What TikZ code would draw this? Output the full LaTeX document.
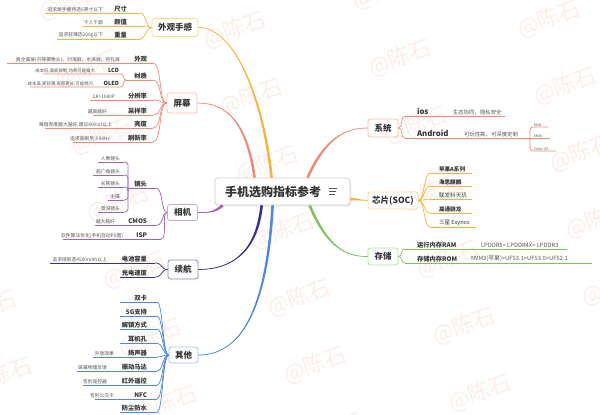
\documentclass[tikz,border=0pt]{standalone}
\usepackage{fontspec}
\setmainfont{Noto Sans CJK SC}
\usetikzlibrary{calc}
\definecolor{cOr}{HTML}{F4B43C}
\definecolor{cOrL}{HTML}{FAD88E}
\definecolor{cRd}{HTML}{F08A78}
\definecolor{cRdL}{HTML}{F6BDB2}
\definecolor{cPu}{HTML}{A064B4}
\definecolor{cPuL}{HTML}{CDA9DA}
\definecolor{cIn}{HTML}{3A2D8C}
\definecolor{cInL}{HTML}{8E82C8}
\definecolor{cBl}{HTML}{5088DA}
\definecolor{cBlL}{HTML}{A3C1EE}
\definecolor{cGr}{HTML}{7CC35A}
\definecolor{cGrL}{HTML}{B8DEA2}
\definecolor{txt}{HTML}{333333}
\definecolor{note}{HTML}{555555}
\definecolor{wm}{HTML}{FDEEEA}
\tikzset{
  topic/.style={draw, rounded corners=2.5pt, line width=0.8pt, fill=white, text=txt,
    font=\bfseries\fontsize{8.5}{8.5}\selectfont, inner sep=0pt, minimum height=18pt},
  lab/.style={text=txt, font=\bfseries\fontsize{6.3}{6.3}\selectfont, inner sep=0.8pt},
  rlab/.style={text=txt, font=\bfseries\fontsize{7.8}{7.8}\selectfont, inner sep=0.8pt},
  slab/.style={text=txt, font=\bfseries\fontsize{5.6}{5.6}\selectfont, inner sep=0.8pt},
  nt/.style={text=note, font=\fontsize{4.8}{4.8}\selectfont, inner sep=0.8pt},
  tnt/.style={text=note, font=\fontsize{3.6}{3.6}\selectfont, inner sep=0.6pt},
  br/.style={line width=0.7pt},
  wmk/.style={text=wm, font=\fontsize{22}{22}\selectfont, rotate=20},
}
% name, colour, y, x start, x end, label right x, label, note right x, note
\newcommand{\LItem}[9]{%
  \coordinate (#1a) at (#4,#3);
  \coordinate (#1b) at (#5,#3);
  \draw[#2, br] (#1a) -- (#1b);
  \if\relax\detokenize{#7}\relax\else
    \node[lab, anchor=south east] (#1) at (#6,#3) {#7};\fi
  \if\relax\detokenize{#9}\relax\else
    \node[nt, anchor=south east] (#1n) at (#8,#3) {#9};\fi
}
% tapered main branch: colour, start coordinate, ctrl1 (rel. start), end anchor, ctrl2 (rel. end), half width
\newcommand{\taper}[6]{%
  \fill[#1] ($(#2)+#6$) .. controls ($(#2)+#3+#6$) and ($(#4)+#5$) .. (#4)
     .. controls ($(#4)+#5$) and ($(#2)+#3-#6$) .. ($(#2)-#6$) -- cycle;
  \draw[#1, line width=0.7pt] (#2) .. controls ($(#2)+#3$) and ($(#4)+#5$) .. (#4);
}
\begin{document}
\begin{tikzpicture}[x=1pt,y=-1pt]
\useasboundingbox (0,0) rectangle (600,415);
\fill[white] (0,0) rectangle (600,415);
% watermark
\begin{scope}
\clip (0,0) rectangle (600,415);
\foreach \p in {(-15,309),(1,376),
  (70,2),(86,69),(102,136),(118,203),(134,270),(150,337),(166,404),
  (235,30),(251,97),(267,164),(283,231),(299,298),(315,365),(331,432),
  (384,-9),(400,58),(416,125),(432,192),(448,259),(464,326),(480,393),
  (549,19),(565,86),(581,153),(597,220),(613,287),(629,354)}
  \node[wmk] at \p {@陈石};
\end{scope}

% ---------- root ----------
\fill[black!7, rounded corners=3pt] (216,180) rectangle (351.5,206.5);
\node[draw=black!18, line width=0.8pt, rounded corners=3pt, fill=white,
      minimum width=135pt, minimum height=27pt] (root) at (282.5,191.5) {};
\node[anchor=west, text=txt, font=\bfseries\fontsize{12}{12}\selectfont, inner sep=0pt]
      (roottxt) at (225,191.5) {手机选购指标参考};
\draw[black!65, line width=0.8pt] ($(root.west)+(114,-3)$) -- +(8,0);
\draw[black!65, line width=0.8pt] ($(root.west)+(114,0)$) -- +(7,0);
\draw[black!65, line width=0.8pt] ($(root.west)+(114,3)$) -- +(6,0);

% ---------- topic boxes ----------
\node[topic, draw=cOrL, minimum width=46pt] (wg) at (175,27.5) {外观手感};
\node[topic, draw=cRdL, minimum width=30pt, minimum height=20pt] (pm) at (182,103) {屏幕};
\node[topic, draw=cPuL, minimum width=30pt, minimum height=16pt] (xj) at (182.5,212.5) {相机};
\node[topic, draw=cInL, minimum width=30pt, minimum height=19pt] (xh) at (183,269.5) {续航};
\node[topic, draw=cBlL, minimum width=29pt, minimum height=16pt] (qt) at (183.5,355) {其他};
\node[topic, draw=cRdL, minimum width=30pt, minimum height=18pt] (xt) at (383,128) {系统};
\node[topic, draw=cOrL, minimum width=50pt, minimum height=17pt] (soc) at (393,200.5) {芯片(SOC)};
\node[topic, draw=cGrL, minimum width=30pt, minimum height=17pt] (cc) at (383,256.5) {存储};

% ---------- main connectors ----------
\coordinate (o1) at ($(root.north west)+(57,0)$);
\coordinate (o2) at ($(root.north west)+(40,0)$);
\coordinate (o3) at ($(root.south west)+(8,0)$);
\coordinate (o4) at ($(root.south west)+(47,0)$);
\coordinate (o5) at ($(root.south west)+(58,0)$);
\coordinate (o6) at ($(root.north west)+(93,0)$);
\coordinate (o7) at ($(root.east)+(0,7.5)$);
\coordinate (o8) at ($(root.south west)+(95,0)$);
\taper{cOr}{o1}{(-8,-75)}{wg.east}{(38,0)}{(1.3,0)}
\taper{cRd}{o2}{(-8,-55)}{pm.east}{(30,0)}{(1.3,0)}
\taper{cPu}{o3}{(-8,7)}{xj.east}{(12,0)}{(0.86,0.98)}
\taper{cIn}{o4}{(-5,50)}{xh.east}{(30,0)}{(1.3,0)}
\taper{cBl}{o5}{(-6,110)}{qt.east}{(40,0)}{(1.3,0)}
\taper{cRd}{o6}{(18,-40)}{xt.west}{(-22,0)}{(1.19,0.53)}
\taper{cOr}{o7}{(8,0)}{soc.west}{(-8,0)}{(0,1.3)}
\taper{cGr}{o8}{(18,42)}{cc.west}{(-22,0)}{(1.2,-0.51)}

% ---------- 外观手感 ----------
\LItem{wa}{cOr}{13}{45}{140}{128}{尺寸}{104}{追求单手握持选6英寸以下}
\LItem{wb}{cOr}{26}{83}{145}{128}{颜值}{104}{千人千面}
\LItem{wc}{cOr}{39}{57}{140}{128}{重量}{104}{追求轻薄选200g以下}
\foreach \n in {wa,wb,wc}
  \draw[cOr, br] (\n b) .. controls +(6,0) and +(-6,0) .. (wg.west);

% ---------- 屏幕 ----------
\LItem{pa}{cRd}{63}{7}{153}{148}{外观}{121}{真全面屏(升降摄像头)、刘海屏、水滴屏、挖孔屏}
\LItem{pb}{cRd}{80}{126}{153}{148}{材质}{0}{}
\LItem{pc}{cRd}{100}{90}{153}{148}{分辨率}{116}{2K>1080P}
\LItem{pd}{cRd}{115}{93}{153}{148}{采样率}{108}{越高越好}
\LItem{pe}{cRd}{128}{45}{153}{148}{亮度}{113}{峰值亮度越大越好,建议800nit以上}
\LItem{pf}{cRd}{142}{73}{153}{148}{刷新率}{111}{追求高刷至少90Hz}
\foreach \n in {pa,pb,pc,pd,pe,pf}
  \draw[cRd, br] (\n b) .. controls +(9,0) and +(-8,0) .. (pm.west);
% LCD / OLED
\coordinate (lcda) at (43,74);  \coordinate (lcdb) at (121,74);
\coordinate (oleda) at (30,87); \coordinate (oledb) at (121,87);
\draw[cRd, br] (lcda) -- (lcdb) .. controls +(3,0) and +(-3,0) .. (pba);
\draw[cRd, br] (oleda) -- (oledb) .. controls +(3,0) and +(-3,0) .. (pba);
\node[slab, anchor=south east] (lcd) at (120,74) {LCD};
\node[nt, anchor=south east, font=\fontsize{4.4}{4.4}\selectfont] (lcdn) at (96,74) {成本低,面板限制,功耗可能偏大};
\node[slab, anchor=south east] (oled) at (120,87) {OLED};
\node[nt, anchor=south east, font=\fontsize{4.4}{4.4}\selectfont] (oledn) at (94,87) {成本高,更轻薄,观感更好,可能频闪};

% ---------- 相机 ----------
\LItem{ja}{cPu}{188}{128}{156}{148}{镜头}{0}{}
\LItem{j1}{cPu}{162}{98}{124}{0}{}{121}{人像镜头}
\LItem{j2}{cPu}{175}{93}{124}{0}{}{121}{超广角镜头}
\LItem{j3}{cPu}{187}{98}{124}{0}{}{121}{长焦镜头}
\LItem{j4}{cPu}{200}{108}{124}{0}{}{121}{主摄}
\LItem{j5}{cPu}{212}{98}{124}{0}{}{121}{景深镜头}
\foreach \n in {j1,j2,j3,j4,j5}
  \draw[cPu, br, rounded corners=3pt] (\n b) -| (jaa);
\LItem{jb}{cPu}{225}{95}{157}{148}{CMOS}{116}{越大越好}
\LItem{jc}{cPu}{239}{63}{161}{148}{ISP}{124}{软件算法优化(手机自动PS图)}
\foreach \n in {ja,jb,jc}
  \draw[cPu, br] (\n b) .. controls +(7,0) and +(-6,0) .. (xj.west);

% ---------- 续航 ----------
\LItem{ha}{cIn}{263}{50}{155}{148}{电池容量}{108}{追求续航选4500mAh以上}
\LItem{hb}{cIn}{277}{120}{155}{148}{充电速度}{0}{}
\foreach \n in {ha,hb}
  \draw[cIn, br] (\n b) .. controls +(8,0) and +(-7,0) .. (xh.west);

% ---------- 其他 ----------
\LItem{q1}{cBl}{302}{120}{157}{148}{双卡}{0}{}
\LItem{q2}{cBl}{316}{120}{157}{148}{5G支持}{0}{}
\LItem{q3}{cBl}{329}{120}{157}{148}{解锁方式}{0}{}
\LItem{q4}{cBl}{343}{120}{157}{148}{耳机孔}{0}{}
\LItem{q5}{cBl}{357}{93}{157}{148}{扬声器}{115}{外放效果}
\LItem{q6}{cBl}{371}{77}{157}{148}{振动马达}{108}{屏幕物理反馈}
\LItem{q7}{cBl}{385}{83}{157}{148}{红外遥控}{108}{告别遥控器}
\LItem{q8}{cBl}{399}{95}{157}{148}{NFC}{115}{告别公交卡}
\LItem{q9}{cBl}{412}{120}{157}{148}{防尘防水}{0}{}
\foreach \n in {q1,q2,q3,q4,q5,q6,q7,q8,q9}
  \draw[cBl, br] (\n b) .. controls +(6,0) and +(-6,0) .. (qt.west);

% ---------- 系统 ----------
\coordinate (iosa) at (405,116); \coordinate (iosb) at (505,116);
\coordinate (anda) at (405,138); \coordinate (andb) at (550,138);
\draw[cRd, br] (iosa) -- (iosb);
\draw[cRd, br] (anda) -- (andb);
\draw[cRd, br] (xt.east) .. controls +(5,0) and +(-5,0) .. (iosa);
\draw[cRd, br] (xt.east) .. controls +(5,0) and +(-5,0) .. (anda);
\node[rlab, anchor=south west] (ios) at (416,116) {ios};
\node[nt, anchor=south west, font=\fontsize{5.4}{5.4}\selectfont] (iosn) at (452,116) {生态协同、隐私安全};
\node[rlab, anchor=south west] (and) at (416,138) {Android};
\node[nt, anchor=south west, font=\fontsize{5.4}{5.4}\selectfont] (andn) at (463,138) {可玩性高、可深度定制};
\coordinate (miub) at (548,127); \coordinate (colb) at (556,151); \coordinate (brk) at (530,138);
\draw[cRd, br, rounded corners=3pt] (miub) -| (brk);
\draw[cRd, br, rounded corners=3pt] (colb) -| (brk);
\node[tnt, anchor=south west] (miui) at (533,127) {MIUI};
\node[tnt, anchor=south west] (emui) at (533,138) {EMUI};
\node[tnt, anchor=south west] (color) at (533,151) {Color OS};

% ---------- 芯片 ----------
\foreach \n/\y/\t/\w/\e in {s1/173/苹果A系列/\bfseries/472, s2/186/海思麒麟/\bfseries/472,
    s3/199/联发科天玑/\mdseries/472, s4/213/高通骁龙/\bfseries/472, s5/227/三星 Exynos/\mdseries/476}{
  \coordinate (\n a) at (430,\y); \coordinate (\n b) at (\e,\y);
  \draw[cOr, br] (\n a) -- (\n b);
  \draw[cOr, br] (soc.east) .. controls +(6,0) and +(-6,0) .. (\n a);
  \node[slab, anchor=south west, font=\w\fontsize{5.6}{5.6}\selectfont] (\n) at (438,\y) {\t};
}

% ---------- 存储 ----------
\coordinate (rama) at (405,249); \coordinate (ramb) at (567,249);
\coordinate (roma) at (405,263); \coordinate (romb) at (592,263);
\draw[cGr, br] (rama) -- (ramb);
\draw[cGr, br] (roma) -- (romb);
\draw[cGr, br] (cc.east) .. controls +(5,0) and +(-5,0) .. (rama);
\draw[cGr, br] (cc.east) .. controls +(5,0) and +(-5,0) .. (roma);
\node[lab, anchor=south west] (ram) at (416,249) {运行内存RAM};
\node[nt, anchor=south west, font=\fontsize{5.8}{5.8}\selectfont] (ramn) at (480,249) {LPDDR5> LPDDR4X> LPDDR3};
\node[lab, anchor=south west] (rom) at (416,263) {存储内存ROM};
\node[nt, anchor=south west, font=\fontsize{5.8}{5.8}\selectfont] (romn) at (470,263) {NVM3(苹果)>UFS3.1>UFS3.0>UFS2.1};
\end{tikzpicture}
\end{document}
